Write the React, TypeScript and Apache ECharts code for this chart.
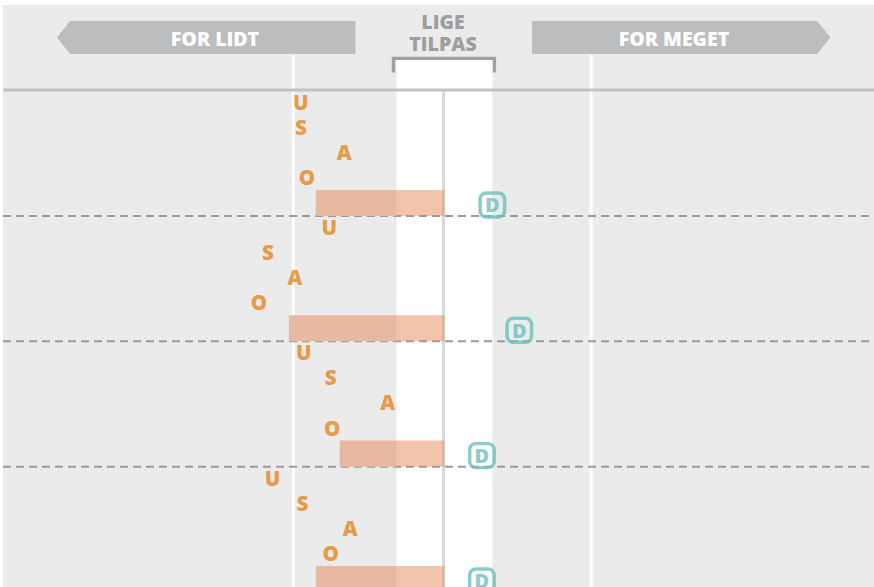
import React, { useEffect, useRef } from "react";
import * as echarts from "echarts";

// ---- data (x: deviation from "just right" = 0) ----
const letters = ["U", "S", "A", "O"];
const uValues = [-96, -77, -94, -115];
const sValues = [-96, -118, -76, -95];
const aValues = [-67, -100, -38, -63];
const oValues = [-92, -124, -75, -76];
const barValues = [-86, -104, -70, -86];
const dValues = [32, 50, 25, 25];
const headerLabels = ["FOR LIDT", "LIGE", "TILPAS", "FOR MEGET"];
const bandLimits = [-32, 32];
const guideLines = [-101, 98];
const separatorRows = [4.5, 9.5, 14.5];
const headerRuleRow = -0.5;

const X_MIN = -295;
const X_MAX = 287;
const Y_MIN = -1.9;
const Y_MAX = 19.32;
const BAND_TOP = -1.7;

const ORANGE = "#e6841a";
const TEAL = "#6cc0bd";
const FONT = "'Open Sans'";

const letterSeries = [uValues, sValues, aValues, oValues].map((vals, k) => ({
  type: "scatter",
  name: letters[k],
  z: 4,
  symbol: "circle",
  symbolSize: 1,
  itemStyle: { color: "rgba(0,0,0,0)" },
  label: {
    show: true,
    position: "inside",
    formatter: letters[k],
    color: ORANGE,
    fontFamily: FONT,
    fontWeight: 800,
    fontSize: 20.5,
    lineHeight: 18,
    offset: [0, -1],
  },
  data: vals.map((v, g) => [v, g * 5 + k]),
}));

export default function App() {
  const ref = useRef<HTMLDivElement>(null);
  useEffect(() => {
    if (!ref.current) return;
    const chart = echarts.init(ref.current, null, { renderer: "svg" });
    const hdr = (text: string, x: number, y: number, fill: string, lineHeight?: number) => ({
      type: "text",
      x,
      y,
      style: {
        text,
        fill,
        fontFamily: FONT,
        fontWeight: 800,
        fontSize: 19.5,
        lineHeight,
        textAlign: "center",
        textVerticalAlign: "middle",
      },
    });
    const option: any = {
      animation: false,
      backgroundColor: "#ebebeb",
      grid: { left: 3, right: 0, top: 55, bottom: 0 },
      xAxis: { type: "value", min: X_MIN, max: X_MAX, show: false },
      yAxis: { type: "value", min: Y_MIN, max: Y_MAX, inverse: true, show: false },
      graphic: [
        { type: "rect", shape: { x: 0, y: 0, width: 3, height: 587 }, style: { fill: "#ffffff" } },
        { type: "rect", shape: { x: 0, y: 0, width: 874, height: 5 }, style: { fill: "#ffffff" } },
        {
          type: "polygon",
          shape: { points: [[57, 37.5], [70, 21], [355.5, 21], [355.5, 54], [70, 54]] },
          style: { fill: "#bcbdbf" },
        },
        {
          type: "polygon",
          shape: { points: [[532, 21], [817, 21], [830.5, 37.5], [817, 54], [532, 54]] },
          style: { fill: "#bcbdbf" },
        },
        hdr(headerLabels[0], 215, 38, "#ffffff"),
        hdr(headerLabels[3], 674, 38, "#ffffff"),
        hdr(headerLabels[1] + "\n" + headerLabels[2], 443, 32.25, "#9d9ea0", 22.5),
        {
          type: "polyline",
          shape: { points: [[393.5, 72.5], [393.5, 58.4], [494.4, 58.4], [494.4, 72.5]] },
          style: { stroke: "#9fa0a2", lineWidth: 3.4, fill: null, lineJoin: "miter" },
        },
      ],
      series: [
        {
          type: "custom",
          name: "decor",
          z: 1,
          silent: true,
          clip: false,
          data: [[0, 0]],
          renderItem: (_params: any, api: any) => {
            const children: any[] = [];
            const bl = api.coord([bandLimits[0], BAND_TOP]);
            const br = api.coord([bandLimits[1], Y_MAX]);
            children.push({
              type: "rect",
              shape: { x: bl[0], y: bl[1], width: br[0] - bl[0], height: br[1] - bl[1] },
              style: { fill: "#ffffff" },
            });
            guideLines.forEach((g) => {
              const a = api.coord([g, Y_MIN]);
              const b = api.coord([g, Y_MAX]);
              children.push({
                type: "line",
                shape: { x1: a[0], y1: a[1], x2: b[0], y2: b[1] },
                style: { stroke: "#ffffff", lineWidth: 3 },
              });
            });
            const c1 = api.coord([0, headerRuleRow]);
            const c2 = api.coord([0, Y_MAX]);
            children.push({
              type: "line",
              shape: { x1: c1[0] - 1, y1: c1[1], x2: c2[0] - 1, y2: c2[1] },
              style: { stroke: "#d9d9d9", lineWidth: 3 },
            });
            const h1 = api.coord([X_MIN, headerRuleRow]);
            const h2 = api.coord([X_MAX, headerRuleRow]);
            children.push({
              type: "line",
              shape: { x1: h1[0], y1: h1[1], x2: h2[0], y2: h2[1] },
              style: { stroke: "#c2c2c2", lineWidth: 3 },
            });
            separatorRows.forEach((r) => {
              const p1 = api.coord([X_MIN, r]);
              const p2 = api.coord([X_MAX, r]);
              children.push({
                type: "line",
                shape: { x1: p1[0], y1: p1[1] + 0.5, x2: p2[0], y2: p2[1] + 0.5 },
                style: { stroke: "#9b9b9b", lineWidth: 2, lineDash: [8, 5] },
              });
            });
            return { type: "group", children };
          },
        },
        {
          type: "custom",
          name: "bars",
          z: 2,
          data: barValues.map((v, g) => [v, g * 5 + 4]),
          renderItem: (_params: any, api: any) => {
            const x0 = api.value(0);
            const y = api.value(1);
            const h = api.size([0, 1])[1] + 1;
            const pStart = api.coord([x0, y]);
            const pBand = api.coord([bandLimits[0], y]);
            const pZero = api.coord([0, y]);
            const top = pStart[1] - h / 2;
            return {
              type: "group",
              children: [
                {
                  type: "rect",
                  shape: { x: pStart[0], y: top, width: pBand[0] - pStart[0], height: h },
                  style: { fill: "#e8b8a0" },
                },
                {
                  type: "rect",
                  shape: { x: pBand[0], y: top, width: pZero[0] - pBand[0], height: h },
                  style: { fill: "rgba(229,137,87,0.5)" },
                },
              ],
            };
          },
        },
        ...letterSeries,
        {
          type: "scatter",
          name: "D",
          z: 4,
          symbol: "roundRect",
          symbolSize: [24.5, 24],
          symbolOffset: [0, 2],
          itemStyle: { color: "rgba(255,255,255,0)", borderColor: TEAL, borderWidth: 3.5 },
          label: {
            show: true,
            position: "inside",
            formatter: "D",
            color: TEAL,
            fontFamily: FONT,
            fontWeight: 800,
            fontSize: 20,
            lineHeight: 18,
          },
          data: dValues.map((v, g) => [v, g * 5 + 4]),
        },
      ],
    };
    chart.setOption(option);
    return () => chart.dispose();
  }, []);
  return (
    <div
      ref={ref}
      style={{ position: "fixed", left: 0, top: 0, width: 874, height: 587 }}
    />
  );
}
